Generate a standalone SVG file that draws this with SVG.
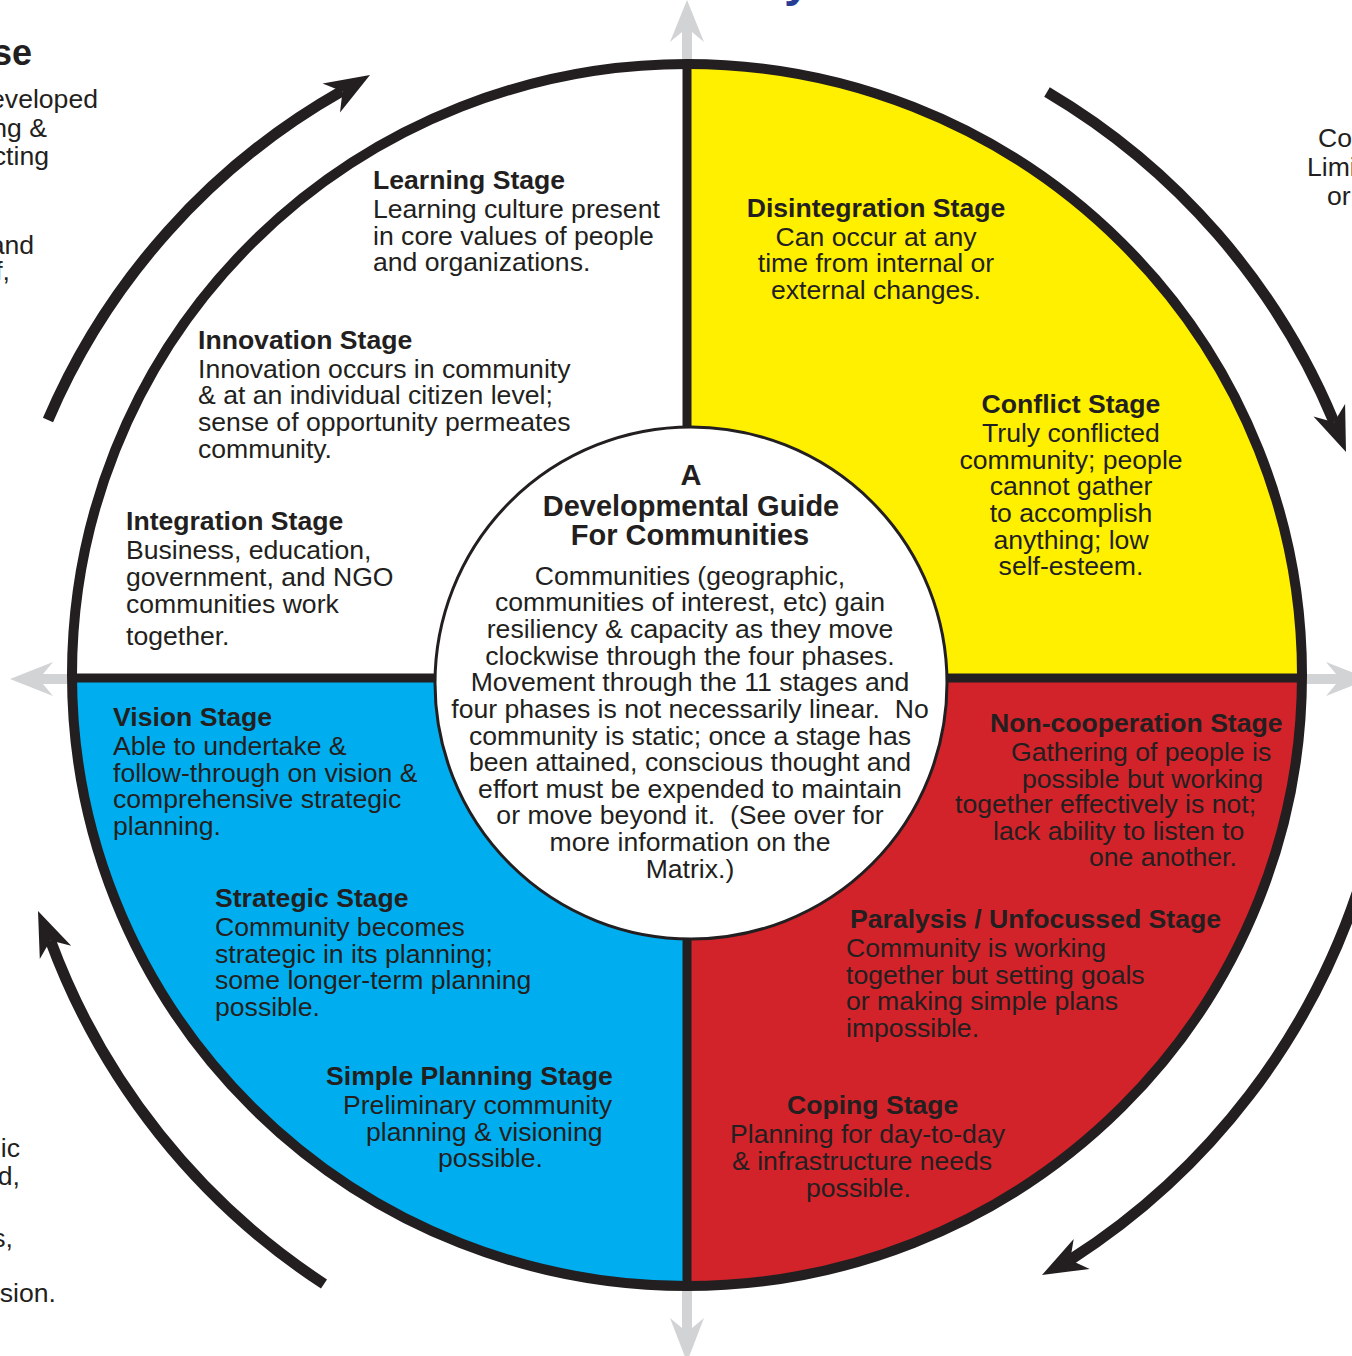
<svg xmlns="http://www.w3.org/2000/svg" width="1352" height="1356" viewBox="0 0 1352 1356">
<defs>
<style>
.t{font-family:"Liberation Sans",Arial,Helvetica,sans-serif;font-size:26.6px;fill:#231f20}
.b{font-weight:bold}
.ct{font-size:29px}
.m{text-anchor:middle}
.e{text-anchor:end}
.arc{fill:none;stroke:#231f20;stroke-width:11}
.head{fill:#231f20}
.axis{fill:#d1d3d4}
.div{stroke:#231f20;stroke-width:9}
</style>
<clipPath id="disc"><ellipse cx="687" cy="675" rx="615" ry="611"/></clipPath>
</defs>
<rect width="1352" height="1356" fill="#ffffff"/>

<!-- partial cut-off texts at the edges -->
<g id="edge-texts">
<text class="t" x="784" y="-4" style="font-size:48px;font-weight:bold;fill:#263d96">y</text>
<text class="t b e" x="32" y="65" style="font-size:36px">se</text>
<text class="t e" x="98" y="108">eveloped</text>
<text class="t e" x="47" y="137">ng &amp;</text>
<text class="t e" x="49" y="165">cting</text>
<text class="t e" x="34" y="254">and</text>
<text class="t e" x="10" y="280">f,</text>
<text class="t e" x="20" y="1157">ic</text>
<text class="t e" x="20" y="1185">d,</text>
<text class="t e" x="13" y="1247">s,</text>
<text class="t e" x="56" y="1302">sion.</text>
<text class="t" x="1318" y="147">Co</text>
<text class="t" x="1307" y="176">Limi</text>
<text class="t" x="1327" y="205">or</text>
</g>

<!-- connectors: axis arrows and cycle arrows -->
<g id="connectors">
<path class="axis" d="M687,0 L704,42 L692,32 L692,70 L682,70 L682,32 L670,42 Z"/>
<path class="axis" d="M687,1362 L704,1318 L692,1328 L692,1285 L682,1285 L682,1328 L670,1318 Z"/>
<path class="axis" d="M10,679 L53,662 L43,674 L76,674 L76,684 L43,684 L53,696 Z"/>
<path class="axis" d="M1369,679 L1326,662 L1336,674 L1298,674 L1298,684 L1336,684 L1326,696 Z"/>

<path class="arc" d="M48,420 A688,688 0 0 1 342,91"/>
<path class="head" d="M370,75 L322.6,83.4 L342.5,91.4 L340,112.6 Z"/>

<path class="arc" d="M1047,92 A692,692 0 0 1 1334,422"/>
<path class="head" d="M1346,452 L1345.1,403.9 L1334.1,422.3 L1313.5,416.5 Z"/>

<path class="arc" d="M1362,878 A702,702 0 0 1 1070,1260"/>
<path class="head" d="M1042,1275 L1089.7,1268.9 L1070.2,1260 L1073.7,1238.9 Z"/>

<path class="arc" d="M324,1284 A700,700 0 0 1 50.4,940.5"/>
<path class="head" d="M38,911 L39.8,959 L50.4,940.5 L71.2,945.8 Z"/>
</g>

<!-- quadrant fills -->
<g id="quadrants" clip-path="url(#disc)">
<rect id="q-white" x="60" y="55" width="627" height="623" fill="#ffffff"/>
<rect id="q-yellow" x="687" y="55" width="625" height="623" fill="#fff000"/>
<rect id="q-red" x="687" y="678" width="625" height="625" fill="#d2232a"/>
<rect id="q-blue" x="60" y="678" width="627" height="625" fill="#00aeef"/>
</g>
<g id="dividers">
<line class="div" x1="687" y1="62" x2="687" y2="1290"/>
<line class="div" x1="70" y1="678" x2="1304" y2="678"/>
<ellipse cx="687" cy="675" rx="615" ry="611" fill="none" stroke="#231f20" stroke-width="10"/>
</g>

<!-- centre -->
<g id="centre">
<circle cx="691" cy="683" r="256" fill="#ffffff" stroke="#231f20" stroke-width="3"/>
<text class="t b ct m" x="691" y="485">A</text>
<text class="t b ct m" x="691" y="516">Developmental Guide</text>
<text class="t b ct m" x="690" y="545">For Communities</text>
<text class="t m" x="690" y="585">Communities (geographic,</text>
<text class="t m" x="690" y="611">communities of interest, etc) gain</text>
<text class="t m" x="690" y="638">resiliency &amp; capacity as they move</text>
<text class="t m" x="690" y="665">clockwise through the four phases.</text>
<text class="t m" x="690" y="691">Movement through the 11 stages and</text>
<text class="t m" x="690" y="718" xml:space="preserve">four phases is not necessarily linear.  No</text>
<text class="t m" x="690" y="745">community is static; once a stage has</text>
<text class="t m" x="690" y="771">been attained, conscious thought and</text>
<text class="t m" x="690" y="798">effort must be expended to maintain</text>
<text class="t m" x="690" y="824" xml:space="preserve">or move beyond it.  (See over for</text>
<text class="t m" x="690" y="851">more information on the</text>
<text class="t m" x="690" y="878">Matrix.)</text>
</g>

<!-- white quadrant stages -->
<g id="learning-stage">
<text class="t b" x="373" y="189">Learning Stage</text>
<text class="t" x="373" y="218">Learning culture present</text>
<text class="t" x="373" y="245">in core values of people</text>
<text class="t" x="373" y="271">and organizations.</text>
</g>
<g id="innovation-stage">
<text class="t b" x="198" y="349">Innovation Stage</text>
<text class="t" x="198" y="378">Innovation occurs in community</text>
<text class="t" x="198" y="404">&amp; at an individual citizen level;</text>
<text class="t" x="198" y="431">sense of opportunity permeates</text>
<text class="t" x="198" y="458">community.</text>
</g>
<g id="integration-stage">
<text class="t b" x="126" y="530">Integration Stage</text>
<text class="t" x="126" y="559">Business, education,</text>
<text class="t" x="126" y="586">government, and NGO</text>
<text class="t" x="126" y="613">communities work</text>
<text class="t" x="126" y="645">together.</text>
</g>

<!-- yellow quadrant stages -->
<g id="disintegration-stage">
<text class="t b m" x="876" y="217">Disintegration Stage</text>
<text class="t m" x="876" y="246">Can occur at any</text>
<text class="t m" x="876" y="272">time from internal or</text>
<text class="t m" x="876" y="299">external changes.</text>
</g>
<g id="conflict-stage">
<text class="t b m" x="1071" y="413">Conflict Stage</text>
<text class="t m" x="1071" y="442">Truly conflicted</text>
<text class="t m" x="1071" y="469">community; people</text>
<text class="t m" x="1071" y="495">cannot gather</text>
<text class="t m" x="1071" y="522">to accomplish</text>
<text class="t m" x="1071" y="549">anything; low</text>
<text class="t m" x="1071" y="575">self-esteem.</text>
</g>

<!-- red quadrant stages -->
<g id="non-cooperation-stage">
<text class="t b" x="990" y="732">Non-cooperation Stage</text>
<text class="t" x="1011" y="761">Gathering of people is</text>
<text class="t" x="1022" y="788">possible but working</text>
<text class="t" x="955" y="813">together effectively is not;</text>
<text class="t" x="993" y="840">lack ability to listen to</text>
<text class="t" x="1089" y="866">one another.</text>
</g>
<g id="paralysis-stage">
<text class="t b" x="850" y="928">Paralysis / Unfocussed Stage</text>
<text class="t" x="846" y="957">Community is working</text>
<text class="t" x="846" y="984">together but setting goals</text>
<text class="t" x="846" y="1010">or making simple plans</text>
<text class="t" x="846" y="1037">impossible.</text>
</g>
<g id="coping-stage">
<text class="t b" x="787" y="1114">Coping Stage</text>
<text class="t" x="730" y="1143">Planning for day-to-day</text>
<text class="t" x="732" y="1170">&amp; infrastructure needs</text>
<text class="t" x="806" y="1197">possible.</text>
</g>

<!-- blue quadrant stages -->
<g id="vision-stage">
<text class="t b" x="113" y="726">Vision Stage</text>
<text class="t" x="113" y="755">Able to undertake &amp;</text>
<text class="t" x="113" y="782">follow-through on vision &amp;</text>
<text class="t" x="113" y="808">comprehensive strategic</text>
<text class="t" x="113" y="835">planning.</text>
</g>
<g id="strategic-stage">
<text class="t b" x="215" y="907">Strategic Stage</text>
<text class="t" x="215" y="936">Community becomes</text>
<text class="t" x="215" y="963">strategic in its planning;</text>
<text class="t" x="215" y="989">some longer-term planning</text>
<text class="t" x="215" y="1016">possible.</text>
</g>
<g id="simple-planning-stage">
<text class="t b" x="326" y="1085">Simple Planning Stage</text>
<text class="t" x="343" y="1114">Preliminary community</text>
<text class="t" x="366" y="1141">planning &amp; visioning</text>
<text class="t" x="438" y="1167">possible.</text>
</g>
</svg>
